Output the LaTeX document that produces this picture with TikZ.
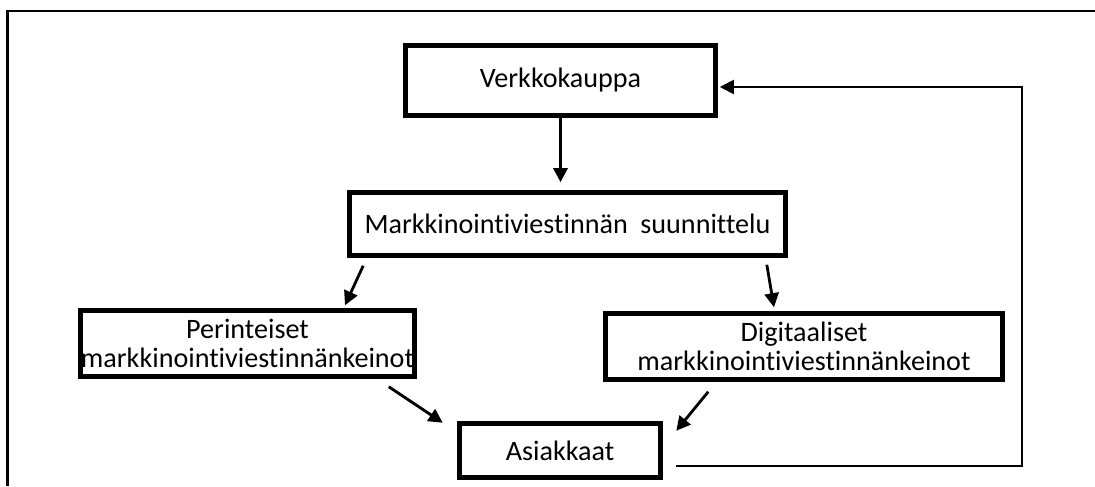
\documentclass[tikz,border=0pt]{standalone}
\usepackage{fontspec}
\setmainfont{Carlito}[Ligatures=NoCommon]
\usetikzlibrary{arrows.meta,calc}

\begin{document}
\begin{tikzpicture}[x=0.025cm, y=-0.025cm, >={Triangle[length=10pt,width=10pt]},
    box/.style={draw, line width=3.2pt, rectangle, align=center, inner sep=0pt, font=\fontsize{20}{21}\selectfont},
    link/.style={->, line width=2pt},
    feedback/.style={->, line width=1.5pt}]
    \useasboundingbox (0,0) rectangle (1095,486);

    % Frame
    \coordinate (framebottom) at (7.5,486);
    \coordinate (framecorner) at (7.5,11);
    \coordinate (frameright) at (1095,11);
    \draw [line width=2.1pt] (framebottom) -- (framecorner) -- (frameright);

    % Nodes
    \node [box, minimum width=7.75cm, minimum height=1.75cm] (verkko) at (560.5,80.5) {Verkkokauppa};
    \node [box, minimum width=10.9cm, minimum height=1.575cm] (suunn) at (567.5,224) {Markkinointiviestinnän\ \ suunnittelu};
    \node [box, minimum width=8.35cm, minimum height=1.65cm] (perint) at (247.5,343.5) {Perinteiset\\markkinointiviestinnänkeinot};
    \node [box, minimum width=9.925cm, minimum height=1.65cm] (digit) at (804,346.5) {Digitaaliset\\markkinointiviestinnänkeinot};
    \node [box, minimum width=5.025cm, minimum height=1.35cm] (asiak) at (560,450.5) {Asiakkaat};

    % Flow
    \draw [link] (verkko.south) -- ($(verkko.south |- suunn.north)+(0,-8)$);
    \draw [link] ($(suunn.south west)+(16,8)$) -- ($(perint.north)+(97.5,-3)$);
    \draw [link] ($(suunn.south east)+(-21,7)$) -- ($(digit.north)+(-30,-4)$);
    \draw [link] ($(perint.south east)+(-28,8)$) -- ($(asiak.north west)+(-14.5,1.5)$);
    \draw [link] ($(digit.south west)+(105,10)$) -- ($(asiak.north east)+(13.5,9.5)$);

    % Feedback back to the shop
    \coordinate (loopcorner) at (1022,87);
    \draw [feedback] ($(asiak.east)+(13.5,15.5)$) -| (loopcorner) -- ($(verkko.east |- loopcorner)+(2,0)$);
\end{tikzpicture}
\end{document}
